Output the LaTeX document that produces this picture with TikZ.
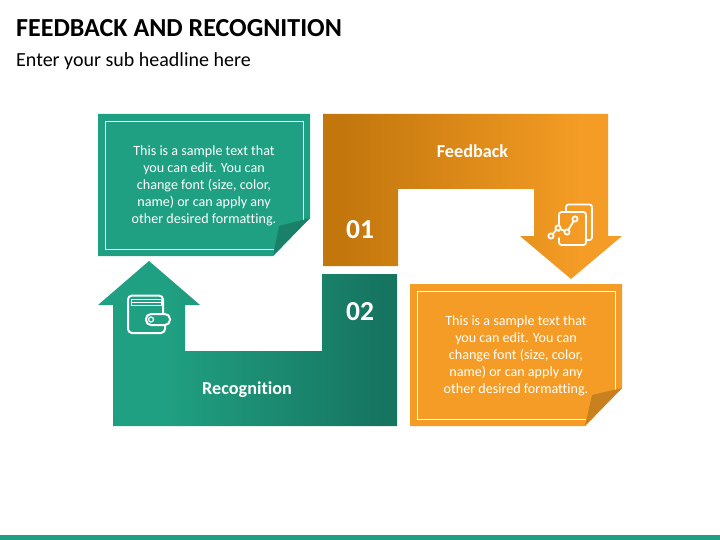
\documentclass[tikz,border=0pt]{standalone}
\usepackage{fontspec}
\setmainfont[Ligatures=NoCommon]{Carlito}
\definecolor{tealc}{HTML}{20A082}
\definecolor{tealdark}{HTML}{167560}
\definecolor{tealfold}{HTML}{1A8068}
\definecolor{orangec}{HTML}{F49C25}
\definecolor{orangedark}{HTML}{C2760C}
\definecolor{orangefold}{HTML}{C98120}
\pgfdeclarehorizontalshading{fbshade}{100bp}{color(0bp)=(orangedark);color(28bp)=(orangedark);color(68bp)=(orangec);color(100bp)=(orangec)}
\pgfdeclarehorizontalshading{rcshade}{100bp}{color(0bp)=(tealc);color(36bp)=(tealc);color(72bp)=(tealdark);color(100bp)=(tealdark)}
\tikzset{
  x=1pt,y=-1pt,
  bodytext/.style={text=white,align=center,font=\fontsize{14.1}{17}\selectfont,inner sep=0pt},
  headtext/.style={text=white,font=\bfseries\fontsize{18.2}{20}\selectfont,inner sep=0pt,anchor=base},
  numtext/.style={text=white,font=\bfseries\fontsize{27.5}{28}\selectfont,inner sep=0pt},
  inner line/.style={draw=white,line width=0.8pt},
  icon line/.style={draw=white,line width=1.8pt,line join=round,line cap=round},
}
\begin{document}
\begin{tikzpicture}
\useasboundingbox (0,0) rectangle (720,540);
\fill[white] (0,0) rectangle (720,540);
\fill[tealc] (0,535) rectangle (720,540);
\node[anchor=base west,inner sep=0pt,font=\bfseries\fontsize{26}{28}\selectfont,text=black] (title) at (16,37) {FEEDBACK AND RECOGNITION};
\node[anchor=base west,inner sep=0pt,font=\fontsize{20}{24}\selectfont,text=black] (subtitle) at (16,66.7) {Enter your sub headline here};
% Feedback arrow
\path[shading=fbshade] (323,114) -- (608,114) -- (608,236) -- (622,236) -- (571,279) -- (520,236) -- (534,236) -- (534,189) -- (398,189) -- (398,266) -- (323,266) -- cycle;
% Recognition arrow
\path[shading=rcshade] (113,426) -- (113,305) -- (98,305) -- (149,261) -- (200,305) -- (185,305) -- (185,351) -- (322,351) -- (322,274) -- (397,274) -- (397,426) -- cycle;
% green card
\fill[tealc] (98,114) -- (310,114) -- (310,218) -- (273,256) -- (98,256) -- cycle;
\draw[inner line] (274,249) -- (105,249) -- (105,121) -- (303,121) -- (303,221);
\fill[tealfold] (310,218) -- (279,226) -- (273,256) -- cycle;
% orange card
\fill[orangec] (410,284) -- (622,284) -- (622,388) -- (585,426) -- (410,426) -- cycle;
\draw[inner line] (586,419) -- (417,419) -- (417,291) -- (615,291) -- (615,391);
\fill[orangefold] (622,388) -- (592,395) -- (585,426) -- cycle;
% texts
\node[bodytext] (greentext) at (204,186.2) {This is a sample text that\\you can edit. You can\\change font (size, color,\\name) or can apply any\\other desired formatting.};
\node[bodytext] (orangetext) at (516,356.2) {This is a sample text that\\you can edit. You can\\change font (size, color,\\name) or can apply any\\other desired formatting.};
\node[headtext] (feedback) at (472.5,158) {Feedback};
\node[headtext] (recognition) at (247,394) {Recognition};
\node[numtext] (n1) at (360,229.7) {01};
\node[numtext] (n2) at (360,311.7) {02};
% document icon
\draw[icon line,rounded corners=2.5pt] (566,212) -- (566,204.5) -- (592,204.5) -- (592,240) -- (586,240);
\draw[icon line,rounded corners=2.5pt] (559,231) -- (559,212) -- (586,212) -- (586,245) -- (559,245) -- (559,238);
\draw[icon line] (551,236) -- (558,228) -- (567,232) -- (575,219);
\foreach \p/\nm in {551/236,558/228,567/232,575/219}{
  \fill[orangec] (\p,\nm) circle (3pt);
  \draw[icon line] (\p,\nm) circle (2.6pt);
}
% wallet icon
\draw[icon line,line width=2pt,rounded corners=4pt] (165,325) -- (165,333) -- (128,333) -- (128,295.5) -- (163,295.5) -- (163,314);
\draw[draw=white,line width=1pt] (131,299) -- (161,299) (131,302) -- (161,302) (131,305.5) -- (161,305.5) (131,299) -- (131,306) (161,299) -- (161,306);
\draw[icon line,line width=2pt,fill=tealc,rounded corners=5pt] (146,314) rectangle (170,325);
\draw[white,line width=1.2pt,fill=tealc] (151,319.5) circle (2.5pt);
\end{tikzpicture}
\end{document}
